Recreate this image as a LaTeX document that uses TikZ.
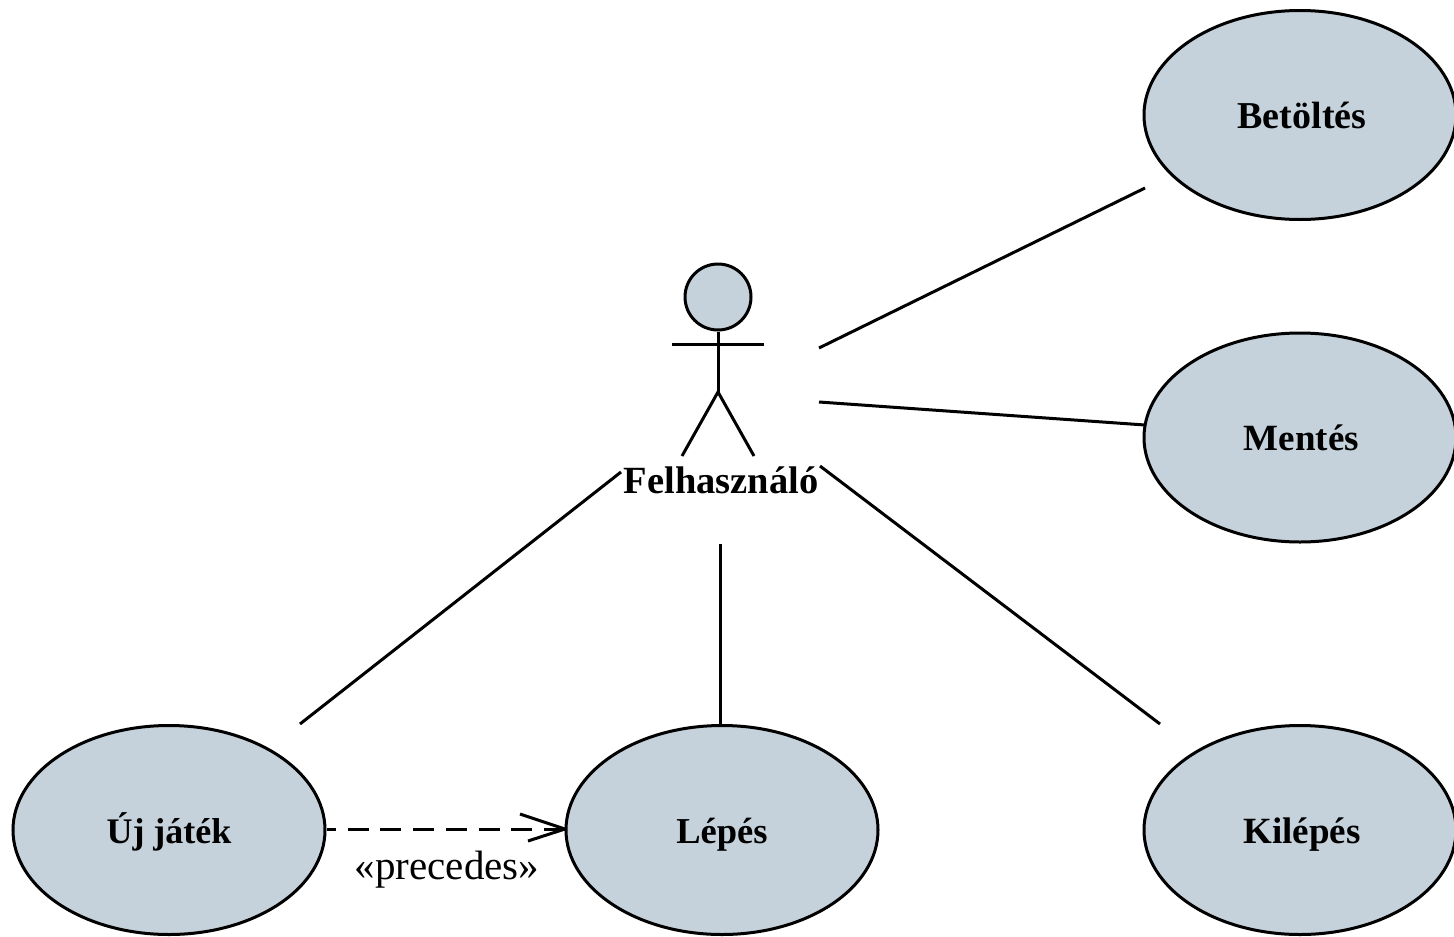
\documentclass[tikz,border=0pt]{standalone}
\usepackage{fontspec}
\setmainfont{Liberation Serif}
\definecolor{uc}{HTML}{C5D2DB}
\usetikzlibrary{shapes.geometric}
\tikzset{
 x=1pt,y=-1pt,
 usecase/.style={draw=black,line width=3pt,fill=uc,ellipse,minimum width=312pt,minimum height=209pt,inner sep=0pt,text height=34pt,text depth=8pt},
 ucfont/.style={font=\fontsize{#1}{#1}\selectfont\bfseries},
 assoc/.style={draw=black,line width=3pt},
 actorline/.style={draw=black,line width=3pt},
}
\begin{document}
\begin{tikzpicture}
\useasboundingbox (0,0) rectangle (1454,937);
\node[usecase,ucfont=38] (bet) at (1300,115) {\hspace*{4pt}Betöltés};
\node[usecase,ucfont=37] (men) at (1300,437.5) {\hspace*{3pt}Mentés};
\node[usecase,ucfont=36] (uj) at (169,830) {Új játék};
\node[usecase,ucfont=36.5] (lep) at (722,830) {Lépés};
\node[usecase,ucfont=37] (kil) at (1300,830) {\hspace*{4pt}Kilépés};
\node[draw=black,line width=3pt,fill=uc,circle,minimum size=66pt,inner sep=0pt] (head) at (718,297) {};
\coordinate (neck) at (718,392);
\coordinate (armL) at (672,344);
\coordinate (armR) at (764,344);
\coordinate (footL) at (682,456);
\coordinate (footR) at (754,456);
\draw[actorline] (head.south) -- (neck);
\draw[actorline] (armL) -- (armR);
\draw[actorline] (footL) -- (neck) -- (footR);
\node[ucfont=38.5,inner sep=0pt,text height=34pt,text depth=8pt] (act) at (721,480) {Felhasználó};
\coordinate (a1) at (819,348);
\coordinate (b1) at (1145,188);
\coordinate (a2) at (819,402);
\coordinate (b2) at (1145,425);
\coordinate (a3) at (621,472);
\coordinate (b3) at (300,724);
\coordinate (a4) at (720,544);
\coordinate (b4) at (720,724);
\coordinate (a5) at (820,466);
\coordinate (b5) at (1160,724);
\coordinate (d1) at (327,829);
\coordinate (d2) at (565,829);
\coordinate (h1) at (520,814);
\coordinate (h2) at (528,841);
\draw[assoc] (a1) -- (b1);
\draw[assoc] (a2) -- (b2);
\draw[assoc] (a3) -- (b3);
\draw[assoc] (a4) -- (b4);
\draw[assoc] (a5) -- (b5);
\draw[assoc,dash pattern=on 21pt off 11.7pt,dash phase=12pt] (d1) -- (d2);
\draw[assoc,line join=round] (h1) -- (d2) -- (h2);
\node[inner sep=0pt,font=\fontsize{41}{41}\selectfont] (prec) at (447,870) {«precedes»};
\end{tikzpicture}
\end{document}
